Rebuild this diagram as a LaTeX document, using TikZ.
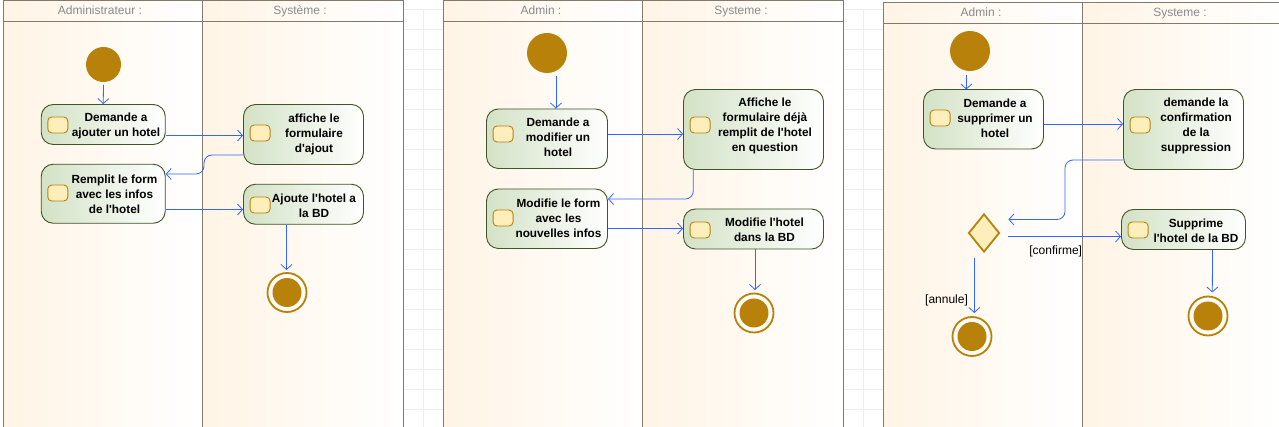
\documentclass[tikz,border=0pt]{standalone}
\usepackage{fontspec}
\setmainfont{Liberation Sans}
\usetikzlibrary{arrows.meta, shapes.geometric}

\definecolor{laneorange}{HTML}{FFF4E5}
\definecolor{laneline}{HTML}{85796B}
\definecolor{lanetext}{HTML}{8A8A8A}
\definecolor{gridline}{HTML}{EEEEEE}
\definecolor{actgreen}{HTML}{D3E2C6}
\definecolor{actline}{HTML}{3F5428}
\definecolor{pinfill}{HTML}{FDEEBB}
\definecolor{golden}{HTML}{B8820A}
\definecolor{flowblue}{HTML}{3366FF}

\tikzset{
    lane/.style={left color=laneorange, right color=white},
    lanehead/.style={text=lanetext, anchor=base, font=\fontsize{12}{14}\selectfont},
    activity/.style={draw=actline, line width=0.9pt, rounded corners=12pt, left color=actgreen, right color=white, minimum width=#1},
    activity/.default=120pt,
    acttext/.style={align=center, font=\fontsize{11.8}{15}\selectfont\bfseries},
    pin/.style={draw=golden, line width=0.9pt, fill=pinfill, rounded corners=4pt, minimum width=20pt, minimum height=16pt, inner sep=0pt},
    startnode/.style={circle, fill=golden, inner sep=0pt, minimum size=#1, outer sep=3pt},
    endring/.style={circle, draw=golden, line width=1.8pt, fill=white!70!laneorange, inner sep=0pt, minimum size=39pt},
    enddot/.style={circle, fill=golden, inner sep=0pt, minimum size=29pt},
    decision/.style={diamond, draw=golden, line width=1.8pt, fill=pinfill, inner sep=0pt, minimum width=31pt, minimum height=38pt},
    flow/.style={draw=flowblue, line width=0.8pt, -{Straight Barb[length=5pt,width=11pt]}},
    guard/.style={font=\fontsize{12}{14}\selectfont, inner sep=0pt},
}

\begin{document}
\begin{tikzpicture}[x=1pt, y=-1pt]
    \useasboundingbox (0,0) rectangle (1279,427);

    % background grid
    \foreach \gx/\gw in {403/40, 843/40} {
        \foreach \gy in {9,29,...,429}
            \draw[gridline] (\gx,\gy) -- ++(\gw,0);
        \draw[gridline] (\gx+20,9) -- (\gx+20,427);
    }

    % swimlanes
    \foreach \lx/\mx/\rx/\ty/\hy in {3/202/403/0.5/21.5, 443/642/843/0.5/21.5, 883/1082/1279/2.5/23.5} {
        \shade[lane] (\lx,\ty) rectangle (\mx,\hy);
        \shade[lane] (\mx,\ty) rectangle (\rx,\hy);
        \shade[lane] (\lx,\hy) rectangle (\mx,427);
        \shade[lane] (\mx,\hy) rectangle (\rx,427);
        \draw[laneline, line width=0.9pt] (\lx,427) -- (\lx,\ty) -- (\rx,\ty)
            (\lx,\hy) -- (\rx,\hy) (\mx,\ty) -- (\mx,427);
    }
    \draw[laneline, line width=0.9pt] (403,0) -- (403,427) (843,0) -- (843,427);

    \node[lanehead] (headAdm) at (100,14.5) {Administrateur :};
    \node[lanehead] (headSys) at (300,14.5) {Système :};
    \node[lanehead] (headAdmin) at (541,14.5) {Admin :};
    \node[lanehead] (headSysteme) at (741,14.5) {Systeme :};
    \node[lanehead] (headAdminC) at (981,17) {Admin :};
    \node[lanehead] (headSystemeC) at (1180,17) {Systeme :};

    % ajout
    \node[startnode=35pt] (startA) at (103.5,64.5) {};
    \node[activity=124pt, minimum height=40pt] (askAdd) at (103.25,124.5) {};
    \node[activity, minimum height=60pt] (showForm) at (303.5,134.5) {};
    \node[activity=124pt, minimum height=59pt] (fillForm) at (103.25,193.75) {};
    \node[activity, minimum height=40pt] (addHotel) at (303.5,204.25) {};
    \node[acttext] (askAddTxt) at (116,125.5) {Demande a\\ajouter un hotel};
    \node[acttext] (showFormTxt) at (314,134.5) {affiche le\\formulaire\\d\textquotesingle ajout};
    \node[acttext] (fillFormTxt) at (114.5,194) {Remplit le form\\avec les infos\\de l\textquotesingle hotel};
    \node[acttext] (addHotelTxt) at (314,205.5) {Ajoute l\textquotesingle hotel a\\la BD};
    \node[endring] (endA) at (287,292.5) {};
    \node[enddot] (endADot) at (287,292.5) {};

    \draw[flow] (startA.south) -- (askAdd.north);
    \draw[flow] ([yshift=-11pt]askAdd.east) -- ([yshift=-1pt]showForm.west);
    \draw[flow, rounded corners=8pt] ([yshift=-20.5pt]showForm.west) -- (204,155) -- (204,174) -- ([yshift=19.75pt]fillForm.east);
    \draw[flow] ([yshift=-15.75pt]fillForm.east) -- ([yshift=-5.25pt]addHotel.west);
    \draw[flow] ([xshift=-17pt]addHotel.south) -- (286.5,270);

    % modification
    \node[startnode=40pt] (startB) at (547,53) {};
    \node[activity=121pt, minimum height=59.5pt] (askEdit) at (547,138.75) {};
    \node[activity=140pt, minimum height=80pt] (showFilled) at (753.5,129.5) {};
    \node[activity=121pt, minimum height=59.5pt] (editForm) at (547,218.75) {};
    \node[activity=140pt, minimum height=40pt] (editHotel) at (753.5,229) {};
    \node[acttext] (askEditTxt) at (558,137) {Demande a\\modifier un\\hotel};
    \node[acttext] (showFilledTxt) at (765,126) {Affiche le\\formulaire déjà\\remplit de l\textquotesingle hotel\\en question};
    \node[acttext] (editFormTxt) at (558.5,218) {Modifie le form\\avec les\\nouvelles infos};
    \node[acttext] (editHotelTxt) at (764.5,230) {Modifie l\textquotesingle hotel\\dans la BD};
    \node[endring] (endB) at (754,313) {};
    \node[enddot] (endBDot) at (754,313) {};

    \draw[flow] (556,76) -- ([xshift=9pt]askEdit.north);
    \draw[flow] ([yshift=4.75pt]askEdit.east) -- ([yshift=-4.5pt]showFilled.west);
    \draw[flow, rounded corners=8pt] ([xshift=-60.2pt]showFilled.south) -- (693.3,199) -- ([yshift=19.75pt]editForm.east);
    \draw[flow] ([yshift=-9.75pt]editForm.east) -- ([yshift=0.5pt]editHotel.west);
    \draw[flow] ([xshift=1.5pt]editHotel.south) -- (755,290);

    % suppression
    \node[startnode=40pt] (startC) at (970,51) {};
    \node[activity, minimum height=59.5pt] (askDel) at (983.5,119.25) {};
    \node[activity, minimum height=80pt] (confirmDel) at (1183.5,129.5) {};
    \node[decision] (choice) at (984,233) {};
    \node[activity=124pt, minimum height=40pt] (delHotel) at (1183.5,229.5) {};
    \node[acttext] (askDelTxt) at (995,118.5) {Demande a\\supprimer un\\hotel};
    \node[acttext] (confirmDelTxt) at (1196,126) {demande la\\confirmation\\de la\\suppression};
    \node[acttext] (delHotelTxt) at (1196,231) {Supprime\\l\textquotesingle hotel de la BD};
    \node[endring] (endC) at (972,336.5) {};
    \node[enddot] (endCDot) at (972,336.5) {};
    \node[endring] (endD) at (1208,316) {};
    \node[enddot] (endDDot) at (1208,316) {};

    \draw[flow] (966.3,75) -- (966.3,89.5);
    \draw[flow] ([yshift=-4.75pt]askDel.east) -- ([yshift=5.5pt]confirmDel.west);
    \draw[flow, rounded corners=8pt] ([yshift=-30.5pt]confirmDel.west) -- (1065,160) -- (1065,219.5) -- ([xshift=8pt,yshift=13.5pt]choice.east);
    \draw[flow] ([xshift=8pt,yshift=-3.5pt]choice.east) -- ([yshift=-7pt]delHotel.west) node[guard, pos=0.42, below=8.5pt] (guardYes) {[confirme]};
    \draw[flow] ([xshift=-9.7pt,yshift=-5pt]choice.south) -- (974.3,313) node[guard, pos=0.78, left=6pt] (guardNo) {[annule]};
    \draw[flow] ([xshift=29pt]delHotel.south) -- (1212.3,292.5);

    % action pins
    \foreach \act/\py in {askAdd/125, showForm/133, fillForm/193, addHotel/205, askEdit/134, showFilled/125, editForm/218, editHotel/230, askDel/118, confirmDel/125, delHotel/230} {
        \node[pin] (\act Pin) at ([xshift=17pt]\act.west |- 0,\py) {};
    }
\end{tikzpicture}
\end{document}
